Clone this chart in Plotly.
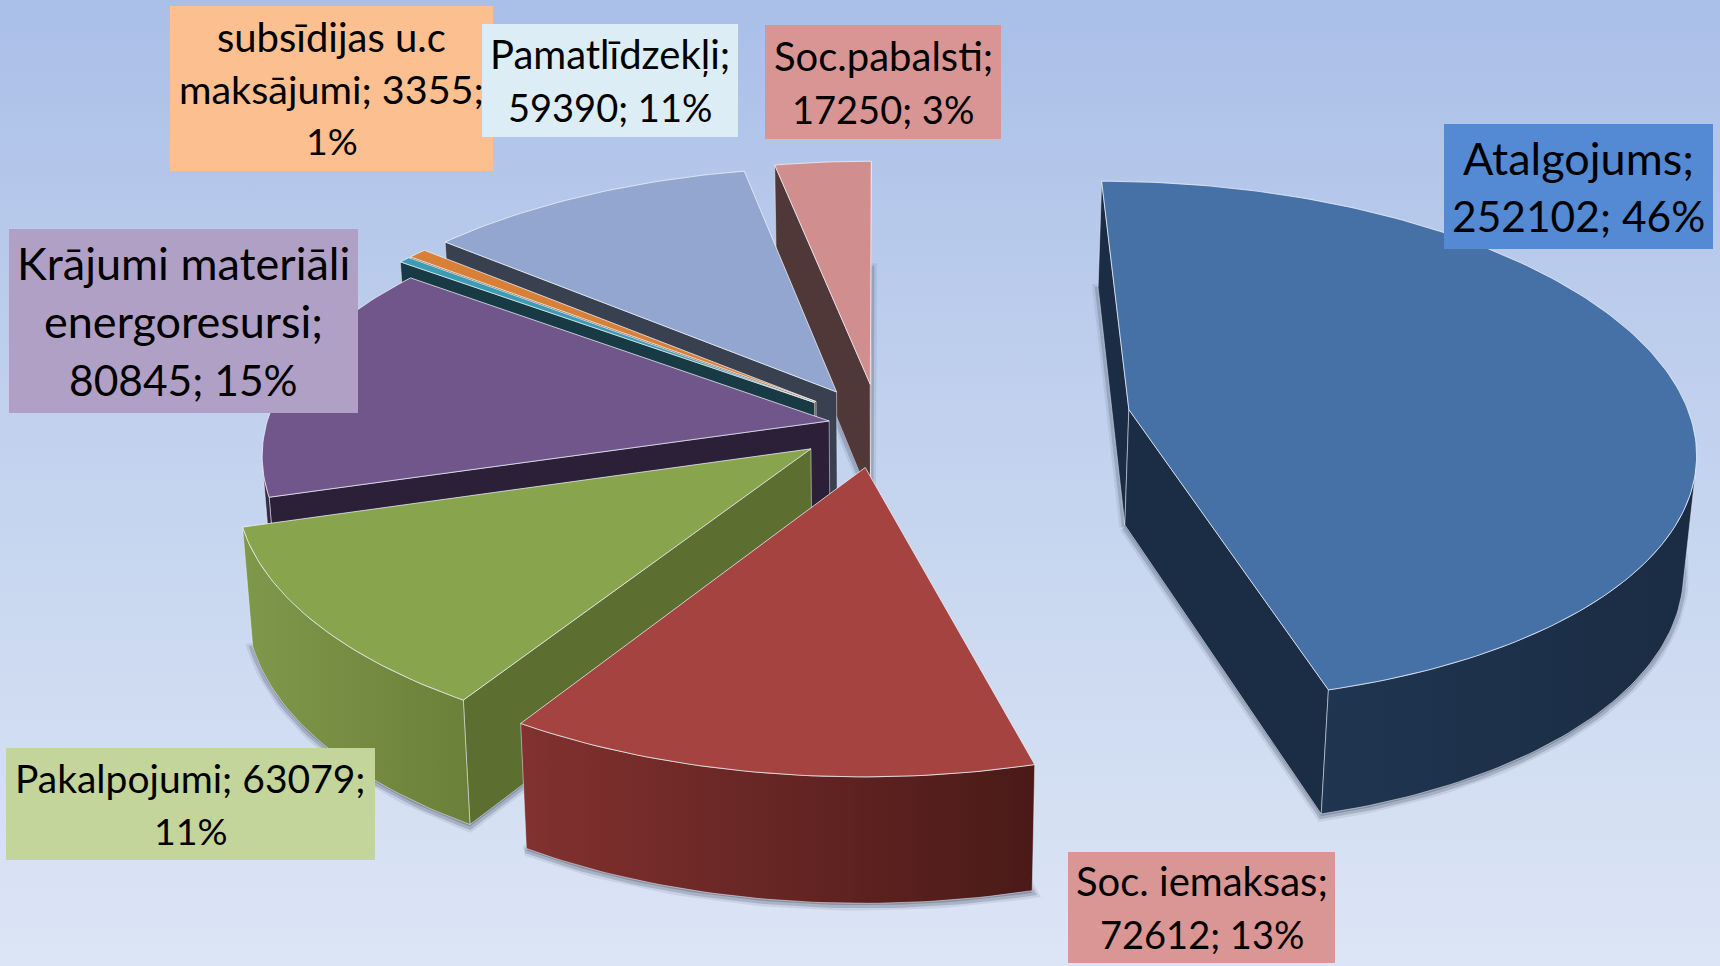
import numpy as np
import plotly.graph_objects as go

# ---- data ----
categories = ["Atalgojums", "Soc. iemaksas", "Pakalpojumi", "Krājumi materiāli energoresursi",
              "(bez nosaukuma)", "subsīdijas u.c maksājumi", "Pamatlīdzekļi", "Soc.pabalsti"]
values = [252102, 72612, 63079, 80845, 2100, 3355, 59390, 17250]
explode = [0.451, 0.162, 0.15, 0.09, 0.145, 0.145, 0.15, 0.16]

label_lines = [
    ["Atalgojums;", "252102; 46%"],
    ["Soc. iemaksas;", "72612; 13%"],
    ["Pakalpojumi; 63079;", "11%"],
    ["Krājumi materiāli", "energoresursi;", "80845; 15%"],
    [],
    ["subsīdijas u.c", "maksājumi; 3355;", "1%"],
    ["Pamatlīdzekļi;", "59390; 11%"],
    ["Soc.pabalsti;", "17250; 3%"],
]
label_boxes = [
    (1444, 124, 1713, 249), (1068, 852, 1335, 963), (6, 748, 375, 860), (9, 229, 358, 413),
    None, (170, 6, 493, 171), (482, 24, 738, 137), (765, 25, 1001, 139),
]
label_fill = ["#538ad3", "#d99694", "#c3d59b", "#b0a0c6", None, "#fbbf90", "#dcedf5", "#d99594"]
label_size = [[45, 42.5], [40, 38], [39, 37.5], [45, 45, 42.5], [], [40, 39.5, 37.5], [40, 38], [40, 38]]
label_gap = [58, 53, 52, 58, None, 52, 53, 53]
label_order = [0, 1, 2, 3, 5, 6, 7]

top_color = ["#4571a6", "#a54340", "#88a44d", "#71568b", "#3d9cb5", "#d87f38", "#92a6cf", "#d08f8e"]
wall_color = ["#1a2d44", "#4b1a18", "#5c6f31", "#2c1f38", "#183a45", "#7a4a20", "#394050", "#513838"]
outer_left = ["#1f3550", "#82312f", "#7f984a", "#3c2c4e", "#183a45", "#7a4a20", "#394050", "#513838"]
outer_right = ["#1a2c43", "#4a1a18", "#6b8039", "#2c1f38", "#183a45", "#7a4a20", "#394050", "#513838"]

# projection of the exploded pie
X0, Y0, RX, RY, PERSP = 879, 425, 563, 260, 0.123
draw_order = [7, 6, 5, 4, 3, 2, 1, 0]


def project(px, py, bottom=False):
    px, py = np.asarray(px, float), np.asarray(py, float)
    w = 1 + PERSP * py
    sx = X0 + RX * px / w
    sy = Y0 - RY * py / w
    if bottom:
        sx = X0 + (sx - X0) * 0.984
        sy = sy + 116 - 9 * py
    return sx, sy


def faces_viewer(xs, ys):
    """Screen y runs downward, so a clockwise outline gives a positive sum."""
    xs, ys = np.asarray(xs, float), np.asarray(ys, float)
    return np.sum(xs * np.roll(ys, -1) - np.roll(xs, -1) * ys) > 0


total = sum(values)
ends = np.cumsum(values) / total * 2 * np.pi
starts = np.concatenate([[0], ends[:-1]])

fig = go.Figure()


def poly(xs, ys, fill=None, grad=None, line="rgba(0,0,0,0)", lw=0):
    kw = dict(x=list(xs) + [xs[0]], y=list(ys) + [ys[0]], mode="lines", fill="toself",
              line=dict(color=line, width=lw), hoverinfo="skip", showlegend=False)
    if grad:
        kw["fillgradient"] = dict(type="horizontal", colorscale=[[0, grad[0]], [1, grad[1]]])
    else:
        kw["fillcolor"] = fill
    fig.add_trace(go.Scatter(**kw))


# background gradient
fig.add_trace(go.Scatter(x=[0, 1720, 1720, 0, 0], y=[0, 0, 966, 966, 0], mode="lines", fill="toself",
                         line=dict(width=0), hoverinfo="skip", showlegend=False,
                         fillgradient=dict(type="vertical",
                                           colorscale=[[0, "#dce5f5"], [0.55, "#c2d2ee"], [1, "#aabfe8"]])))

geom = []
for i in range(len(values)):
    mid = (starts[i] + ends[i]) / 2
    ox, oy = explode[i] * np.sin(mid), explode[i] * np.cos(mid)
    th = np.linspace(starts[i], ends[i], max(3, int((ends[i] - starts[i]) * 60)))
    geom.append((ox, oy, ox + np.sin(th), oy + np.cos(th)))

# soft shadow under the bottom faces
for i in draw_order:
    ox, oy, ax, ay = geom[i]
    bx, by = project(np.r_[ox, ax], np.r_[oy, ay], bottom=True)
    for lw, op in [(11, 0.10), (6, 0.22)]:
        poly(bx, by + 2, fill="rgba(60,70,90,%.2f)" % op, line="rgba(60,70,90,%.2f)" % op, lw=lw)

EDGE = "rgba(235,240,248,0.65)"
for i in draw_order:
    ox, oy, ax, ay = geom[i]
    tx, ty = project(ax, ay)
    bx, by = project(ax, ay, bottom=True)
    cx, cy = project(ox, oy)
    dx, dy = project(ox, oy, bottom=True)
    # radial walls: only those turned toward the viewer
    qx, qy = [cx, dx, bx[0], tx[0]], [cy, dy, by[0], ty[0]]
    if faces_viewer(qx, qy):
        poly(qx, qy, fill=wall_color[i], line=EDGE, lw=0.8)
    qx, qy = [tx[-1], bx[-1], dx, cx], [ty[-1], by[-1], dy, cy]
    if faces_viewer(qx, qy):
        poly(qx, qy, fill=wall_color[i], line=EDGE, lw=0.8)
    # outer wall: only the part of the arc turned toward the viewer
    seen = [k for k in range(len(tx) - 1)
            if faces_viewer([tx[k], bx[k], bx[k + 1], tx[k + 1]], [ty[k], by[k], by[k + 1], ty[k + 1]])]
    if seen:
        a, b = seen[0], seen[-1] + 2
        poly(np.r_[tx[a:b], bx[a:b][::-1]], np.r_[ty[a:b], by[a:b][::-1]],
             grad=(outer_left[i], outer_right[i]), line=EDGE, lw=0.8)
    # top face
    poly(np.r_[cx, tx], np.r_[cy, ty], fill=top_color[i], line="rgba(240,243,250,0.75)", lw=1)

shapes, annotations = [], []
for i in label_order:
    x1, y1, x2, y2 = label_boxes[i]
    shapes.append(dict(type="rect", xref="x", yref="y", x0=x1, y0=y1, x1=x2, y1=y2,
                       fillcolor=label_fill[i], line=dict(width=0), layer="above"))
    n = len(label_lines[i])
    for k, text in enumerate(label_lines[i]):
        annotations.append(dict(x=(x1 + x2) / 2, y=(y1 + y2) / 2 + (k - (n - 1) / 2) * label_gap[i],
                                xref="x", yref="y", text=text, showarrow=False,
                                xanchor="center", yanchor="middle",
                                font=dict(family="Lato", size=label_size[i][k], color="#000000")))

fig.update_layout(
    width=1720, height=966, margin=dict(l=0, r=0, t=0, b=0),
    paper_bgcolor="#c2d2ee", plot_bgcolor="#c2d2ee",
    xaxis=dict(range=[0, 1720], visible=False, fixedrange=True),
    yaxis=dict(range=[966, 0], visible=False, fixedrange=True),
    shapes=shapes, annotations=annotations, showlegend=False,
)
fig.write_html("out.html", post_script="document.body.style.margin='0';document.body.style.overflow='hidden';",
               config={"displayModeBar": False})
